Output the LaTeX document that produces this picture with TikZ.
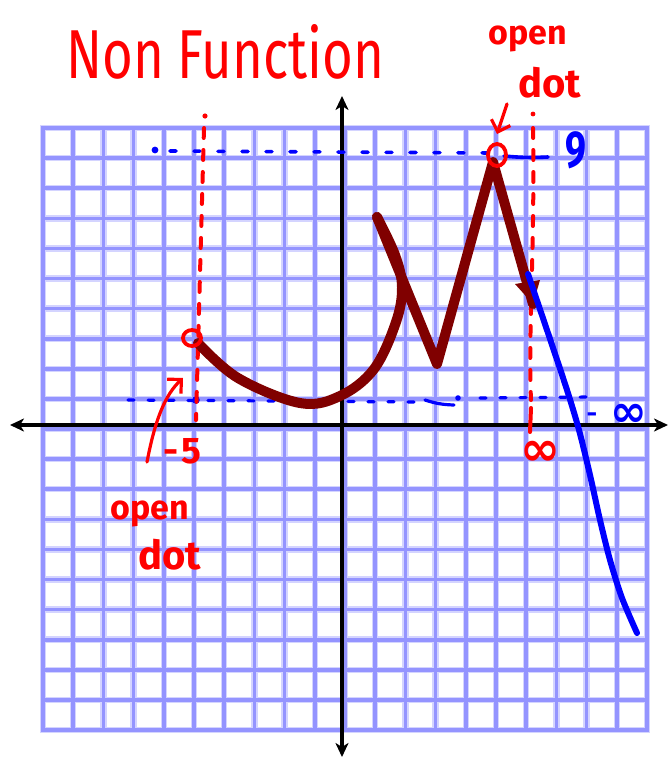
\documentclass[tikz,border=0pt]{standalone}
\usepackage{fontspec}
\setmainfont{Fira Sans}
\newfontfamily\symfont{DejaVu Sans}
\usetikzlibrary{arrows.meta}
\definecolor{gridblue}{RGB}{148,148,255}
\definecolor{gridhalo}{RGB}{212,212,255}
\definecolor{maroonc}{RGB}{128,0,0}
\definecolor{penred}{RGB}{255,0,0}
\definecolor{penblue}{RGB}{0,0,255}
\tikzset{
  haloline/.style={draw=gridhalo, line width=6.5pt, line cap=rect},
  gridline/.style={draw=gridblue, line width=3.6pt, line cap=rect},
  axisline/.style={draw=black, line width=3.6pt, {Stealth[length=14pt,width=13pt,inset=4pt]}-{Stealth[length=14pt,width=13pt,inset=4pt]}},
  reddash/.style={draw=penred, line width=4pt, line cap=round, dash pattern=on 10pt off 12pt},
  bluedot/.style={draw=penblue, line width=3.6pt, line cap=round},
  graphline/.style={draw=maroonc, line width=10pt, line cap=round, line join=round},
  blueline/.style={draw=penblue, line width=6pt, line cap=round},
  opendot/.style={draw=penred, line width=3.8pt},
  penarrow/.style={draw=penred, line width=3.2pt, line cap=round, line join=round, -{Straight Barb[length=10pt,width=20pt,line width=3.2pt]}},
  redtext/.style={text=penred, inner sep=0pt},
  bluetext/.style={text=penblue, inner sep=0pt}
}
\begin{document}
\begin{tikzpicture}[x=1pt,y=-1pt]
\useasboundingbox (0,0) rectangle (670,758);
\fill[white] (0,0) rectangle (670,758);
% grid
\foreach \i in {0,...,20}{
  \draw[haloline] ({43+30.2*\i},128) -- ({43+30.2*\i},730);
  \draw[haloline] (43,{128+30.1*\i}) -- (647,{128+30.1*\i});
}
\foreach \i in {0,...,20}{
  \draw[gridline] ({43+30.2*\i},128) -- ({43+30.2*\i},730);
  \draw[gridline] (43,{128+30.1*\i}) -- (647,{128+30.1*\i});
}
% axes
\coordinate (xl) at (10,425);
\coordinate (xr) at (668,425);
\coordinate (yt) at (342,96);
\coordinate (yb) at (342,757);
\draw[axisline] (xl) -- (xr);
\draw[axisline] (yb) -- (yt);

% title
\node[redtext, anchor=base west] (title) at (66,78) {\resizebox{318pt}{54pt}{Non Function}};

% blue dotted guide lines
\coordinate (t1) at (170,151);
\coordinate (t2) at (492,153);
\fill[penblue] (155,150) circle (3.4pt);
\draw[bluedot, dash pattern=on 6pt off 18pt] (t1) -- (t2);
\coordinate (s1) at (504,156);
\coordinate (s2) at (548,157);
\draw[bluedot] (s1) to[bend right=4] (s2);

\coordinate (l1) at (128,400);
\coordinate (l2) at (418,402);
\draw[bluedot, line width=3.2pt, dash pattern=on 6pt off 14pt] (l1) -- (l2);
\fill[penblue] (196,400) circle (3.8pt);
\coordinate (l3) at (425,400);
\coordinate (l4) at (454,405);
\draw[bluedot, line width=3.2pt] (l3) to[bend right=8] (l4);
\fill[penblue] (458,398) circle (2.8pt);
\coordinate (l5) at (480,398);
\coordinate (l6) at (592,397);
\draw[bluedot, line width=3.2pt, dash pattern=on 6pt off 14pt] (l5) -- (l6);

% red dashed verticals
\fill[penred] (205,116) circle (2.6pt);
\coordinate (v1) at (204,128);
\coordinate (v2) at (196,420);
\draw[reddash] (v1) -- (v2);
\fill[penred] (533,114) circle (2.4pt);
\coordinate (w1) at (533,128);
\coordinate (w2) at (531,400);
\draw[reddash] (w1) .. controls (535,250) and (528,330) .. (w2);
\coordinate (w3) at (531,408);
\coordinate (w4) at (530,432);
\draw[draw=penred, line width=4pt, line cap=round] (w3) -- (w4);

% maroon curve
\draw[graphline] plot[smooth, tension=0.6] coordinates {(198,343) (238,378) (300,403) (340,396) (374,369) (396,322) (402,287) (395,255) (377,217)};
\coordinate (m1) at (377,217);
\coordinate (m2) at (437,364);
\coordinate (m3) at (493,162);
\coordinate (m4) at (533,304);
\draw[graphline] (m1) -- (m2) -- (m3) -- (m4);
\fill[maroonc] (m4) -- (515,284) -- (540,280) -- cycle;

% blue curve
\draw[blueline] plot[smooth, tension=0.5] coordinates {(528,274) (548,333) (567,390) (579,430) (590,475) (600,520) (610,560) (622,598) (637,633)};

% open dots
\draw[opendot] (192,338) ellipse [x radius=9pt, y radius=8pt];
\node[circle, minimum size=0pt, inner sep=0pt] (dotL) at (192,338) {};
\draw[opendot] (497,155) ellipse [x radius=9pt, y radius=11pt];
\node[circle, minimum size=0pt, inner sep=0pt] (dotR) at (497,155) {};

% labels
\node[redtext, anchor=base west, font=\bfseries\fontsize{34}{34}\selectfont] (open1) at (488,44) {open};
\node[redtext, anchor=base west, font=\bfseries\fontsize{40}{40}\selectfont] (dot1) at (518,97) {dot};
\node[redtext, anchor=base west, font=\bfseries\fontsize{34}{34}\selectfont] (open2) at (110,519) {open};
\node[redtext, anchor=base west, font=\bfseries\fontsize{40}{40}\selectfont] (dot2) at (138,569) {dot};
\node[redtext, anchor=base west, font=\bfseries\fontsize{37}{37}\selectfont] (m5) at (163,463) {-\kern3pt5};
\node[redtext, font=\symfont\bfseries\fontsize{48}{48}\selectfont] (infr) at (540,453) {∞};
\node[bluetext, anchor=base west, font=\bfseries\fontsize{52}{52}\selectfont] (nine) at (565,167) {\scalebox{0.72}[1]{9}};
\node[bluetext, font=\bfseries\fontsize{26}{26}\selectfont] (dash) at (592,418) {-};
\node[bluetext, font=\symfont\bfseries\fontsize{44}{44}\selectfont] (infb) at (629,415) {∞};

% pen arrows
\coordinate (a1) at (507,104);
\coordinate (a2) at (497,134);
\draw[penarrow] (a1) -- (a2);
\coordinate (b1) at (147,462);
\coordinate (b2) at (183,378);
\draw[penarrow] (b1) .. controls (155,420) and (165,395) .. (b2);
\end{tikzpicture}
\end{document}
